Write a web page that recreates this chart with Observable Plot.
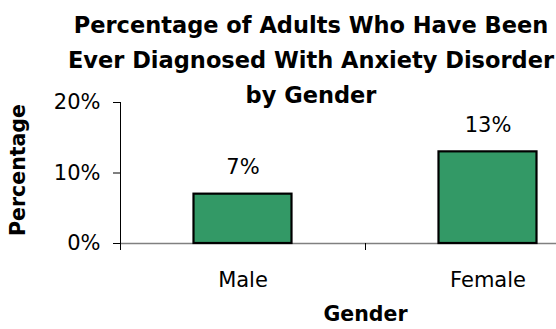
<!DOCTYPE html>
<html>
<head>
<meta charset="utf-8">
<script src="https://cdn.jsdelivr.net/npm/d3@7"></script>
<script src="https://cdn.jsdelivr.net/npm/@observablehq/plot@0.6"></script>
<style>
  html, body { margin: 0; padding: 0; background: #fff; }
  #wrap { position: relative; width: 556px; height: 329px; overflow: hidden; background: #fff; }
  #title {
    position: absolute; left: 0; top: 8px; width: 622px; text-align: center;
    font-family: "DejaVu Sans", sans-serif; font-weight: bold; font-size: 22.5px;
    line-height: 35px; color: #000; z-index: 2;
  }
  #chart svg { overflow: hidden !important; display: block; }
</style>
</head>
<body>
<div id="wrap">
  <div id="title">Percentage of Adults Who Have Been<br>Ever Diagnosed With Anxiety Disorder<br>by Gender</div>
  <div id="chart"></div>
</div>
<script>
const categories = ["Male", "Female"];
const values = [7, 13];
const yTicks = [0, 10, 20];
const xTitle = "Gender";
const yTitle = "Percentage";

const data = categories.map((c, i) => ({gender: c, value: values[i], pos: i}));
const boundaries = d3.range(categories.length + 1);

const chart = Plot.plot({
  width: 556,
  height: 329,
  marginLeft: 120,
  marginRight: -54,
  marginTop: 102,
  marginBottom: 86,
  style: {fontFamily: "DejaVu Sans, sans-serif", fontSize: "21px", color: "#000", background: "#fff"},
  x: {domain: [0, categories.length]},
  y: {domain: [0, 20]},
  marks: [
    Plot.ruleY([0], {stroke: "#808080", strokeWidth: 1.5}),
    Plot.ruleX([0], {y1: 0, y2: 20, stroke: "#000", strokeWidth: 1}),
    Plot.axisY({ticks: yTicks, tickFormat: d => d + "%", tickSize: 7, tickPadding: 13, label: null, fontSize: 21, stroke: "#000"}),
    Plot.axisX({ticks: boundaries, tickFormat: () => "", tickSize: 7, label: null, stroke: "#000"}),
    Plot.rectY(data, {x1: d => d.pos + 0.3, x2: d => d.pos + 0.7, y1: 0, y2: "value", fill: "#339966", stroke: "#000", strokeWidth: 2.2}),
    Plot.text(data, {x: d => d.pos + 0.5, y: "value", text: d => d.value + "%", dy: -27, fontSize: 21, fill: "#000"}),
    Plot.text(data, {x: d => d.pos + 0.5, y: 0, text: "gender", dy: 37, fontSize: 21, fill: "#000"}),
    Plot.text([xTitle], {frameAnchor: "bottom", text: d => d, dy: 77, fontSize: 20.5, fontWeight: "bold", fill: "#000"}),
    Plot.text([yTitle], {frameAnchor: "left", textAnchor: "middle", text: d => d, rotate: -90, dx: -102, dy: -3, fontSize: 20.5, fontWeight: "bold", fill: "#000"})
  ]
});
document.getElementById("chart").appendChild(chart);
</script>
</body>
</html>
